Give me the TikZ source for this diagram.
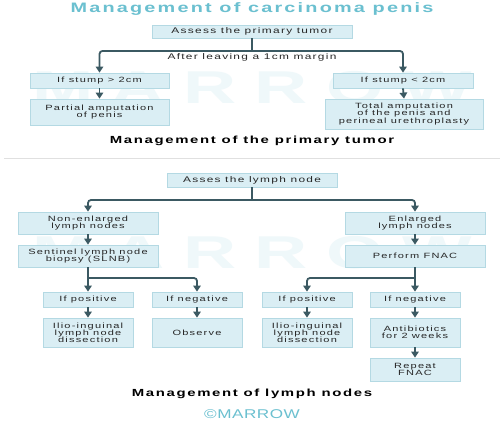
\documentclass[tikz,border=0pt]{standalone}
\usepackage{fontspec}
\setmainfont{Liberation Sans}[FakeStretch=1.45,LetterSpace=16]
\newfontfamily\wmfont{Liberation Sans}[FakeStretch=1.6,LetterSpace=40]
\newfontfamily\logofont{Liberation Sans}[FakeStretch=1.35,LetterSpace=4]
\usetikzlibrary{arrows.meta}
\definecolor{boxfill}{HTML}{DAEEF4}
\definecolor{boxline}{HTML}{B4D9E3}
\definecolor{arrowc}{HTML}{3B5962}
\definecolor{tealc}{HTML}{6BC0D0}
\definecolor{wm}{HTML}{EFF8FA}
\begin{document}
\begin{tikzpicture}[x=1pt,y=-1pt,
  box/.style={draw=boxline,line width=0.8pt,fill=boxfill,inner sep=0pt,align=center,
    font=\fontsize{7.6}{7.1}\selectfont,text=black!85},
  bigbox/.style={box,font=\fontsize{8.2}{8.2}\selectfont},
  conn/.style={draw=arrowc,line width=1.8pt,rounded corners=3pt},
  arr/.style={conn,-{Triangle[width=7.5pt,length=6pt]}},
  captext/.style={font=\fontsize{10.3}{10.5}\selectfont\bfseries,text=black}]
\useasboundingbox (0,0) rectangle (504,433);
\fill[white] (0,0) rectangle (504,433);
% watermarks
\node[text=wm,font=\wmfont\fontsize{46}{46}\selectfont\bfseries] (wm1) at (252,88) {MARROW};
\node[text=wm,font=\wmfont\fontsize{46}{46}\selectfont\bfseries] (wm2) at (252,253) {MARROW};
% title
\node[font=\fontsize{13.7}{13.7}\selectfont\bfseries,text=tealc] (title) at (252,9) {Management of carcinoma penis};
% top section
\node[bigbox,minimum width=200pt,minimum height=13pt] (a1) at (252,31.5) {Assess the primary tumor};
\coordinate (j1) at (252,51);
\node[font=\fontsize{8.2}{8.2}\selectfont,text=black!85] (marg) at (252,57.5) {After leaving a 1cm margin};
\node[box,minimum width=139pt,minimum height=15pt] (b1) at (99.5,80.5) {If stump > 2cm};
\node[box,minimum width=139pt,minimum height=26pt] (b2) at (99.5,112) {Partial amputation\\of penis};
\node[box,minimum width=140pt,minimum height=15pt] (c1) at (403,80.5) {If stump < 2cm};
\node[box,minimum width=158pt,minimum height=30pt] (c2) at (404,114) {Total amputation\\of the penis and\\perineal urethroplasty};
\draw[conn] (a1.south) -- (j1);
\draw[arr] (j1) -| (b1.north);
\draw[arr] (j1) -| (c1.north);
\draw[arr] (b1.south) -- (b2.north);
\draw[arr] (c1.south) -- (c2.north);
\node[captext] (cap1) at (252,141) {Management of the primary tumor};
% separator
\coordinate (s1) at (4,158);
\coordinate (s2) at (500,158);
\draw[black!12,line width=0.6pt] (s1) -- (s2);
% bottom section
\node[bigbox,minimum width=170pt,minimum height=14pt] (d0) at (252,180) {Asses the lymph node};
\coordinate (j2) at (252,200);
\node[box,minimum width=140pt,minimum height=22pt] (e1) at (88,223) {Non-enlarged\\lymph nodes};
\node[box,minimum width=140pt,minimum height=22pt] (e2) at (88,256) {Sentinel lymph node\\biopsy (SLNB)};
\node[box,minimum width=140pt,minimum height=22pt] (f1) at (415,223) {Enlarged\\lymph nodes};
\node[box,minimum width=140pt,minimum height=22pt] (f2) at (415,256) {Perform FNAC};
\node[box,minimum width=90pt,minimum height=15pt] (g1) at (88,299.5) {If positive};
\node[box,minimum width=90pt,minimum height=15pt] (g2) at (197,299.5) {If negative};
\node[box,minimum width=90pt,minimum height=15pt] (g3) at (307,299.5) {If positive};
\node[box,minimum width=90pt,minimum height=15pt] (g4) at (415,299.5) {If negative};
\node[box,minimum width=90pt,minimum height=29pt] (h1) at (88,332.5) {Ilio-inguinal\\lymph node\\dissection};
\node[box,minimum width=90pt,minimum height=29pt] (h2) at (197,332.5) {Observe};
\node[box,minimum width=90pt,minimum height=29pt] (h3) at (307,332.5) {Ilio-inguinal\\lymph node\\dissection};
\node[box,minimum width=90pt,minimum height=29pt] (h4) at (415,332.5) {Antibiotics\\for 2 weeks};
\node[box,minimum width=90pt,minimum height=23pt] (i4) at (415,369.5) {Repeat\\FNAC};
\draw[conn] (d0.south) -- (j2);
\draw[arr] (j2) -| (e1.north);
\draw[arr] (j2) -| (f1.north);
\draw[arr] (e1.south) -- (e2.north);
\draw[arr] (f1.south) -- (f2.north);
\coordinate (k1) at (88,278);
\coordinate (k2) at (415,278);
\draw[arr] (e2.south) -- (g1.north);
\draw[arr] (k1) -| (g2.north);
\draw[arr] (f2.south) -- (g4.north);
\draw[arr] (k2) -| (g3.north);
\draw[arr] (g1.south) -- (h1.north);
\draw[arr] (g2.south) -- (h2.north);
\draw[arr] (g3.south) -- (h3.north);
\draw[arr] (g4.south) -- (h4.north);
\draw[arr] (h4.south) -- (i4.north);
\node[captext] (cap2) at (252,393.5) {Management of lymph nodes};
\node[font=\logofont\fontsize{12.7}{12.7}\selectfont,text=tealc] (logo) at (252,414) {\textcopyright MARROW};
\end{tikzpicture}
\end{document}
